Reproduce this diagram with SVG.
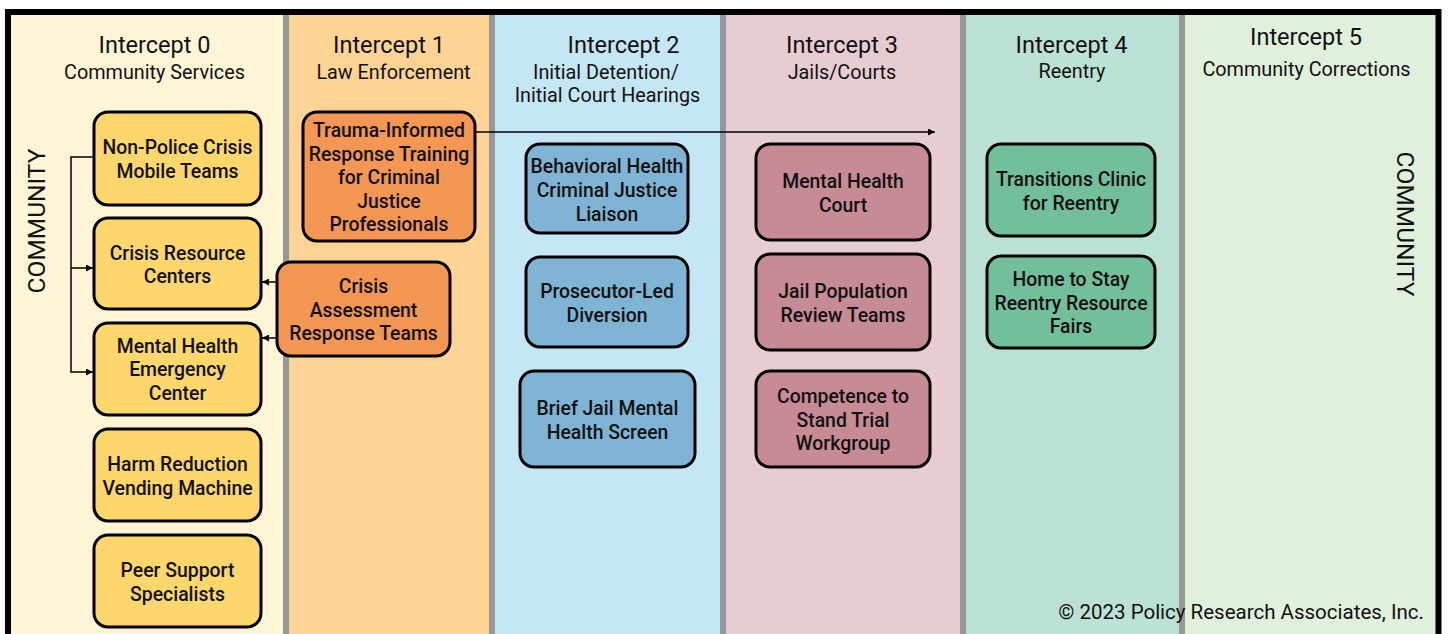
<svg xmlns="http://www.w3.org/2000/svg" width="1449" height="634" viewBox="0 0 1449 634">
<style>
.hd{font-family:Roboto,"Liberation Sans",sans-serif;font-size:23.5px;fill:#111;text-anchor:middle}
.sb{font-family:Roboto,"Liberation Sans",sans-serif;font-size:19.8px;fill:#111;text-anchor:middle}
.cm{font-family:Roboto,"Liberation Sans",sans-serif;font-size:24.5px;fill:#111;text-anchor:middle}
.nt{font-family:Roboto,"Liberation Sans",sans-serif;font-size:19.4px;font-weight:500;fill:#111;text-anchor:middle}
.nb{stroke:#000;stroke-width:3}
.y{fill:#FDD76B}.o{fill:#F49654}.b{fill:#80B4D5}.p{fill:#C78B96}.g{fill:#74BF9B}
.dv{stroke:#98989A;stroke-width:6}
.cn{fill:none;stroke:#000;stroke-width:1.5}
</style>
<defs>
<marker id="ah" viewBox="0 0 10 10" refX="10" refY="5" markerWidth="7" markerHeight="7" markerUnits="userSpaceOnUse" orient="auto">
<path d="M0,0 L10,5 L0,10 z" fill="#000"/>
</marker>
</defs>
<rect x="0" y="0" width="1449" height="634" fill="#fff"/>
<g id="columns">
<rect x="11" y="15" width="275" height="630" fill="#FEF4D6"/>
<rect x="286" y="15" width="206" height="630" fill="#FDD396"/>
<rect x="492" y="15" width="231" height="630" fill="#C4E6F5"/>
<rect x="723" y="15" width="240" height="630" fill="#E7CDD2"/>
<rect x="963" y="15" width="219" height="630" fill="#BCE2D6"/>
<rect x="1182" y="15" width="254" height="630" fill="#E1EFDD"/>
<line class="dv" x1="286" y1="15" x2="286" y2="640"/>
<line class="dv" x1="492" y1="15" x2="492" y2="640"/>
<line class="dv" x1="723" y1="15" x2="723" y2="640"/>
<line class="dv" x1="963" y1="15" x2="963" y2="640"/>
<line class="dv" x1="1182" y1="15" x2="1182" y2="640"/>
<rect x="8" y="12" width="1430.5" height="640" fill="none" stroke="#000" stroke-width="6"/>
</g>
<g id="headers">
<text class="hd" x="154.5" y="53">Intercept 0</text>
<text class="sb" x="154.5" y="79">Community Services</text>
<text class="hd" x="389" y="53">Intercept 1</text>
<text class="sb" x="393.5" y="79">Law Enforcement</text>
<text class="hd" x="623.5" y="53">Intercept 2</text>
<text class="sb" x="606" y="79">Initial Detention/</text>
<text class="sb" x="607.5" y="102">Initial Court Hearings</text>
<text class="hd" x="842" y="53">Intercept 3</text>
<text class="sb" x="842" y="79">Jails/Courts</text>
<text class="hd" x="1071.5" y="53">Intercept 4</text>
<text class="sb" x="1072" y="78">Reentry</text>
<text class="hd" x="1306" y="45">Intercept 5</text>
<text class="sb" x="1306.5" y="76">Community Corrections</text>
<text class="cm" transform="translate(45,221) rotate(-90)">COMMUNITY</text>
<text class="cm" transform="translate(1397,224) rotate(90)">COMMUNITY</text>
<text class="sb" x="1424" y="619" style="text-anchor:end;font-size:20.5px">© 2023 Policy Research Associates, Inc.</text>
</g>
<g id="connectors">
<path class="cn" d="M94,157 H71 V372 H93" marker-end="url(#ah)"/>
<path class="cn" d="M71,268 H93" marker-end="url(#ah)"/>
<path class="cn" d="M277,282 H262" marker-end="url(#ah)"/>
<path class="cn" d="M277,338 H262" marker-end="url(#ah)"/>
<path class="cn" d="M475,132 H935" marker-end="url(#ah)"/>
</g>
<g id="n0a"><rect class="nb y" x="94" y="112" width="167" height="93" rx="14"/><text class="nt" x="177.5" y="154">Non-Police Crisis</text><text class="nt" x="177.5" y="177.5">Mobile Teams</text></g>
<g id="n0b"><rect class="nb y" x="94" y="218" width="167" height="91" rx="14"/><text class="nt" x="177.5" y="259.5">Crisis Resource</text><text class="nt" x="177.5" y="283">Centers</text></g>
<g id="n0c"><rect class="nb y" x="94" y="323" width="167" height="92" rx="14"/><text class="nt" x="177.5" y="352.5">Mental Health</text><text class="nt" x="177.5" y="376">Emergency</text><text class="nt" x="177.5" y="399.5">Center</text></g>
<g id="n0d"><rect class="nb y" x="94" y="429" width="167" height="92" rx="14"/><text class="nt" x="177.5" y="471">Harm Reduction</text><text class="nt" x="177.5" y="494.5">Vending Machine</text></g>
<g id="n0e"><rect class="nb y" x="94" y="535" width="167" height="92" rx="14"/><text class="nt" x="177.5" y="577">Peer Support</text><text class="nt" x="177.5" y="600.5">Specialists</text></g>
<g id="n1a"><rect class="nb o" x="303" y="112" width="172" height="129" rx="14"/><text class="nt" x="389" y="137">Trauma-Informed</text><text class="nt" x="389" y="160.5">Response Training</text><text class="nt" x="389" y="184">for Criminal</text><text class="nt" x="389" y="207.5">Justice</text><text class="nt" x="389" y="231">Professionals</text></g>
<g id="n1b"><rect class="nb o" x="277" y="262" width="173" height="94" rx="14"/><text class="nt" x="363.5" y="293">Crisis</text><text class="nt" x="363.5" y="316.5">Assessment</text><text class="nt" x="363.5" y="340">Response Teams</text></g>
<g id="n2a"><rect class="nb b" x="526" y="144" width="162" height="89" rx="14"/><text class="nt" x="607" y="173">Behavioral Health</text><text class="nt" x="607" y="197">Criminal Justice</text><text class="nt" x="607" y="221">Liaison</text></g>
<g id="n2b"><rect class="nb b" x="526" y="257" width="162" height="90" rx="14"/><text class="nt" x="607" y="298">Prosecutor-Led</text><text class="nt" x="607" y="321.5">Diversion</text></g>
<g id="n2c"><rect class="nb b" x="520" y="371" width="175" height="96" rx="14"/><text class="nt" x="607.5" y="415">Brief Jail Mental</text><text class="nt" x="607.5" y="438.5">Health Screen</text></g>
<g id="n3a"><rect class="nb p" x="756" y="144" width="174" height="96" rx="14"/><text class="nt" x="843" y="188">Mental Health</text><text class="nt" x="843" y="211.5">Court</text></g>
<g id="n3b"><rect class="nb p" x="756" y="254" width="174" height="96" rx="14"/><text class="nt" x="843" y="298">Jail Population</text><text class="nt" x="843" y="321.5">Review Teams</text></g>
<g id="n3c"><rect class="nb p" x="756" y="371" width="174" height="96" rx="14"/><text class="nt" x="843" y="403">Competence to</text><text class="nt" x="843" y="426.5">Stand Trial</text><text class="nt" x="843" y="450">Workgroup</text></g>
<g id="n4a"><rect class="nb g" x="987" y="144" width="168" height="92" rx="14"/><text class="nt" x="1071" y="186">Transitions Clinic</text><text class="nt" x="1071" y="209.5">for Reentry</text></g>
<g id="n4b"><rect class="nb g" x="987" y="256" width="168" height="92" rx="14"/><text class="nt" x="1071" y="286">Home to Stay</text><text class="nt" x="1071" y="309.5">Reentry Resource</text><text class="nt" x="1071" y="333">Fairs</text></g>
</svg>
